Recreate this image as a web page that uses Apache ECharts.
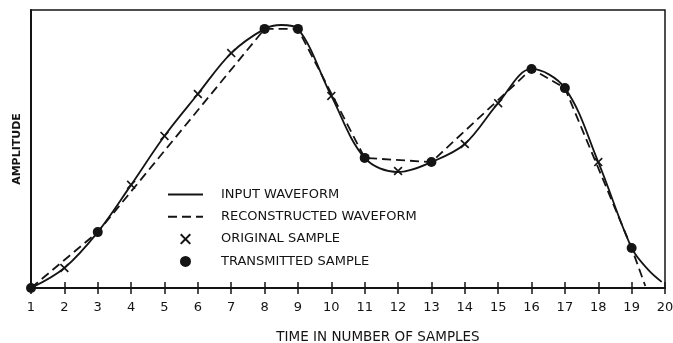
<!DOCTYPE html>
<html>
<head>
<meta charset="utf-8">
<script src="https://cdn.jsdelivr.net/npm/echarts@6/dist/echarts.min.js"></script>
<style>
html,body{margin:0;padding:0;background:#fff;}
#chart{width:673px;height:343px;}
</style>
</head>
<body>
<div id="chart"></div>
<script>
// Input waveform (solid)
var inputX = [1, 2, 3, 4, 5, 6, 7, 8, 8.5, 9, 10, 11, 12, 13, 14, 15, 16, 17, 18, 19, 19.5, 19.9];
var inputY = [0, 7.2, 20.1, 37.1, 54.7, 69.8, 84.5, 93.2, 94.6, 93.2, 69.1, 46.8, 41.7, 45.3, 51.8, 66.5, 78.8, 71.9, 45.3, 14.4, 6.5, 2.2];

// Transmitted samples (dots)
var transX = [1, 3, 8, 9, 11, 13, 16, 17, 19];
var transY = [0, 20.1, 93.2, 93.2, 46.8, 45.3, 78.8, 71.9, 14.4];

// Reconstructed waveform (dashed): through transmitted samples, then down to the axis
var reconX = [1, 3, 8, 9, 11, 13, 16, 17, 19, 19.41];
var reconY = [0, 20.1, 93.2, 93.2, 46.8, 45.3, 78.8, 71.9, 14.4, 0.7];

// Original samples not transmitted (crosses)
var origX = [2, 4, 5, 6, 7, 10, 12, 14, 15, 18];
var origY = [7.2, 37.1, 54.7, 69.8, 84.5, 69.1, 42.1, 51.8, 66.5, 45.3];

var names = ['INPUT WAVEFORM', 'RECONSTRUCTED WAVEFORM', 'ORIGINAL SAMPLE', 'TRANSMITTED SAMPLE'];

function zip(a, b) { return a.map(function (v, i) { return [v, b[i]]; }); }

var INK = '#141414';
var FONT = 'DejaVu Sans';
var crossPath = 'path://M0,1.3 L1.3,0 L5,3.7 L8.7,0 L10,1.3 L6.3,5 L10,8.7 L8.7,10 L5,6.3 L1.3,10 L0,8.7 L3.7,5 Z';

var chart = echarts.init(document.getElementById('chart'), null, {renderer: 'canvas'});
chart.setOption({
  backgroundColor: '#fff',
  animation: false,
  grid: {left: 31, right: 8, top: 10, bottom: 55, show: true, borderColor: INK, borderWidth: 1.5,
         containLabel: false, outerBoundsMode: 'none'},
  legend: {
    orient: 'vertical',
    left: 162,
    top: 183,
    itemWidth: 35,
    itemHeight: 11,
    itemGap: 9.3,
    data: [
      {name: names[0], itemStyle: {opacity: 0}},
      {name: names[1], itemStyle: {opacity: 0}},
      {name: names[2]},
      {name: names[3]}
    ],
    textStyle: {fontFamily: FONT, fontSize: 13, color: INK, padding: [0, 0, 0, 13], lineHeight: 13}
  },
  xAxis: [{
    type: 'value', min: 1, max: 20, interval: 1, position: 'bottom',
    name: 'TIME IN NUMBER OF SAMPLES', nameLocation: 'middle', nameGap: 42,
    nameTextStyle: {fontFamily: FONT, fontSize: 13.5, color: INK, padding: [0, 0, 0, 60]},
    axisLine: {show: true, lineStyle: {color: INK, width: 2}},
    axisTick: {show: true, length: 6, lineStyle: {color: INK, width: 1.5}},
    axisLabel: {fontFamily: FONT, fontSize: 13, color: INK, margin: 13},
    splitLine: {show: false}
  }, {
    type: 'value', min: 1, max: 20, interval: 1, position: 'bottom',
    axisLine: {show: false},
    axisTick: {show: true, inside: true, length: 6, lineStyle: {color: INK, width: 1.5}},
    axisLabel: {show: false},
    splitLine: {show: false}
  }],
  yAxis: {
    type: 'value', min: 0, max: 100,
    name: 'AMPLITUDE', nameLocation: 'middle', nameGap: 8, nameRotate: 90,
    nameTextStyle: {fontFamily: FONT, fontSize: 11, fontWeight: 'bold', color: INK},
    axisLine: {show: true, lineStyle: {color: INK, width: 2}},
    axisTick: {show: false},
    axisLabel: {show: false},
    splitLine: {show: false}
  },
  series: [{
    name: names[0], type: 'line', smooth: 0.35, symbol: 'none',
    data: zip(inputX, inputY),
    lineStyle: {color: INK, width: 1.8},
    itemStyle: {color: INK},
    z: 3
  }, {
    name: names[1], type: 'line', smooth: false, symbol: 'none',
    data: zip(reconX, reconY),
    lineStyle: {color: INK, width: 1.8, type: [9, 5]},
    itemStyle: {color: INK},
    z: 3
  }, {
    name: names[2], type: 'scatter', symbol: crossPath, symbolSize: 9,
    data: zip(origX, origY),
    itemStyle: {color: INK, opacity: 1},
    z: 4
  }, {
    name: names[3], type: 'scatter', symbol: 'circle', symbolSize: 10,
    data: zip(transX, transY),
    itemStyle: {color: INK, opacity: 1},
    z: 5
  }]
});
</script>
</body>
</html>
